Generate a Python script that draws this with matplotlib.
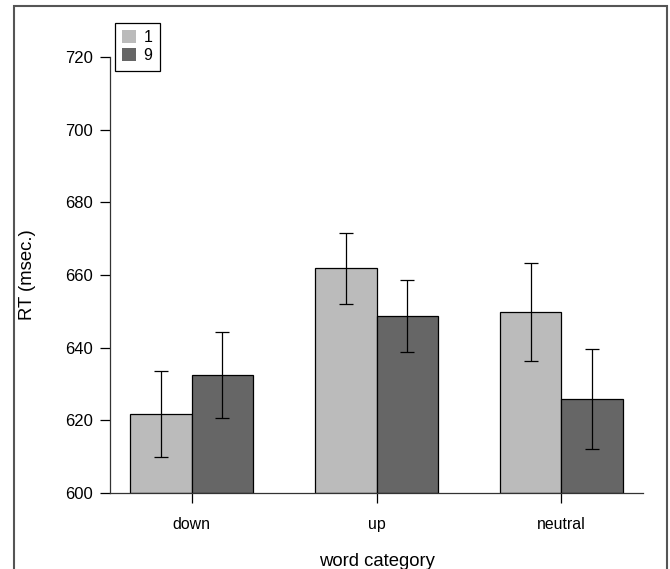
import numpy as np
import matplotlib.pyplot as plt
from matplotlib.patches import Rectangle, Patch

plt.rcParams['font.family'] = ['Liberation Sans', 'DejaVu Sans']

categories = ['down', 'up', 'neutral']
series = ['1', '9']
rt_1 = [621.7, 661.8, 649.9]
err_1 = [11.9, 9.8, 13.5]
rt_9 = [632.5, 648.8, 625.9]
err_9 = [11.9, 9.9, 13.7]
colors = ['#bbbbbb', '#666666']

fig = plt.figure(figsize=(6.7, 5.69), dpi=100)
W, H = 670, 569
ax = fig.add_axes([110 / W, 1 - 493 / H, 533 / W, 436 / H])

x = np.arange(len(categories)) * 3 + 2  # group centres
for i, (vals, errs) in enumerate([(rt_1, err_1), (rt_9, err_9)]):
    pos = x - 0.5 + i
    ax.bar(pos, np.array(vals) - 600, bottom=600, width=1, color=colors[i],
           edgecolor='black', linewidth=0.9, label=series[i])
    ax.errorbar(pos, vals, yerr=errs, fmt='none', ecolor='black',
                elinewidth=0.9, capsize=5, capthick=0.9)

ax.set_xlim(0.675, 9.325)
ax.set_ylim(600, 720)
ax.set_yticks([600, 620, 640, 660, 680, 700, 720])
ax.set_xticks(x)
ax.set_xticklabels(categories)
ax.tick_params(axis='y', length=7, width=0.9, labelsize=12, pad=5)
ax.tick_params(axis='x', length=7, width=0.9, labelsize=11.4, pad=10.5)
for s in ['top', 'right']:
    ax.spines[s].set_visible(False)
for s in ['left', 'bottom']:
    ax.spines[s].set_linewidth(0.9)
    ax.spines[s].set_color('#333333')

ax.set_ylabel('RT (msec.)', fontsize=13.3, labelpad=21)
ax.set_xlabel('word category', fontsize=13.3, labelpad=15)

handles = [Patch(facecolor=c, edgecolor='none') for c in colors]
leg = ax.legend(handles, series, loc='upper left',
                bbox_to_anchor=(115 / W, 1 - 23 / H), bbox_transform=fig.transFigure,
                fancybox=False, edgecolor='black', framealpha=1, fontsize=11.5,
                handlelength=0.85, handleheight=0.85, handletextpad=0.5,
                labelspacing=0.2, borderpad=0.45, borderaxespad=0)
leg.get_frame().set_linewidth(0.9)

fig.patches.append(Rectangle((14 / W, -0.02), (667 - 14) / W, 1.02 - 6 / H,
                             transform=fig.transFigure, fill=False,
                             edgecolor='#555555', linewidth=1.5))

fig.savefig('out.png', dpi=100)
